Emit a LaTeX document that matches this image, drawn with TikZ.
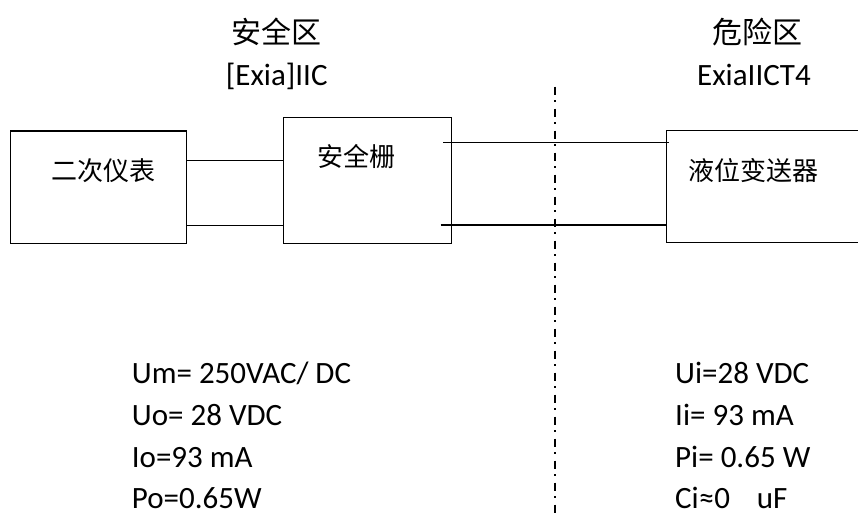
\documentclass[tikz,border=0pt]{standalone}
\usepackage{fontspec}
\setmainfont{Carlito}
\newfontfamily\cjk{Noto Sans CJK SC}
\begin{document}
\begin{tikzpicture}[x=1pt,y=-1pt,
  box/.style={draw, line width=1.4pt, inner sep=0pt, rectangle},
  wire/.style={line width=1.4pt},
  zone/.style={line width=1.5pt, dash pattern=on 8pt off 5.5pt on 2pt off 6.5pt},
  cjklbl/.style={inner sep=0pt, font=\cjk\fontsize{26}{30}\selectfont},
  title/.style={inner sep=0pt, font=\cjk\fontsize{30}{36}\selectfont},
  sub/.style={inner sep=0pt, font=\fontsize{31}{36}\selectfont},
  param/.style={inner sep=0pt, anchor=base west, font=\fontsize{31}{36}\selectfont}]
\clip (0,0) rectangle (858,513);
\fill[white] (0,0) rectangle (858,513);
% boxes
\node[box, minimum width=176pt, minimum height=112.3pt] (inst) at (98.7,187.2) {};
\node[box, minimum width=168.4pt, minimum height=126pt] (sb) at (367.5,180.3) {};
\node[box, minimum width=233.3pt, minimum height=112pt] (tx) at (783.4,186.7) {};
% box labels
\node[cjklbl] (linst) at (103.3,170.7) {二次仪表};
\node[cjklbl] (lsb) at (356,156.7) {安全栅};
\node[cjklbl] (ltx) at (753.5,170.7) {液位变送器};
% wires
\coordinate (ya) at (0,160.3);
\coordinate (yb) at (0,225.3);
\draw[wire] (inst.east |- ya) -- (sb.west |- ya);
\draw[wire] (inst.east |- yb) -- (sb.west |- yb);
\coordinate (ra) at (443.3,142.3);
\coordinate (rb) at (440.7,225);
\coordinate (rae) at (669,142.3);
\draw[wire] (ra) -- (rae);
\draw[wire] (rb) -- (tx.west |- rb);
% zone boundary
\coordinate (d1) at (555,86.7);
\coordinate (d2) at (555,515);
\draw[zone] (d1) -- (d2);
% titles
\node[title] (safe) at (276.7,31.7) {安全区};
\node[sub] (safesub) at (276.7,76) {[Exia]IIC};
\node[title] (haz) at (757.5,31.7) {危险区};
\node[sub] (hazsub) at (754,75) {ExiaIICT4};
% parameters
\node[param] (um) at (131.7,383.3) {Um= 250VAC/ DC};
\node[param] (uo) at (131.7,425) {Uo= 28 VDC};
\node[param] (io) at (131.7,467.2) {Io=93 mA};
\node[param] (po) at (131.7,508.5) {Po=0.65W};
\node[param] (ui) at (675,383.3) {Ui=28 VDC};
\node[param] (ii) at (675,425) {Ii= 93 mA};
\node[param] (pi) at (675,467.2) {Pi= 0.65 W};
\node[param] (ci) at (675,508.5) {Ci≈0\hspace{27pt}uF};
\end{tikzpicture}
\end{document}
